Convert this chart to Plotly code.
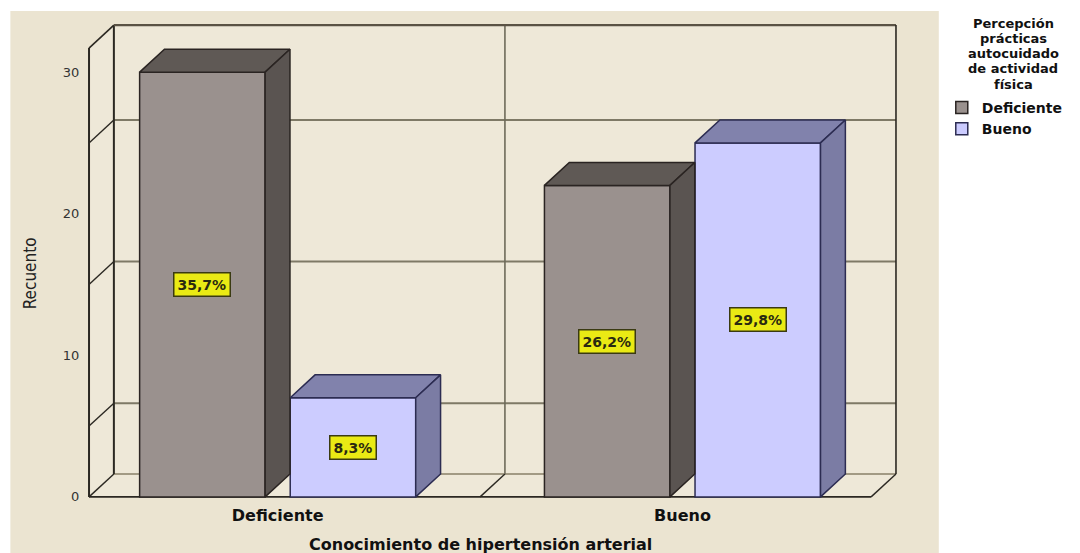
import plotly.graph_objects as go

# ---------------- data ----------------
CATEGORIES = ["Deficiente", "Bueno"]            # Conocimiento de hipertensión arterial
SERIES_NAMES = ["Deficiente", "Bueno"]          # Percepción prácticas autocuidado de actividad física
DEFICIENTE_COUNTS = [30, 22]
BUENO_COUNTS = [7, 25]
Y_TICKS = [0, 10, 20, 30]
GRID_LEVELS = [5, 15, 25]
LEGEND_TITLE_LINES = ["Percepción", "prácticas", "autocuidado", "de actividad", "física"]
X_TITLE = "Conocimiento de hipertensión arterial"
Y_TITLE = "Recuento"

SERIES_VALUES = [DEFICIENTE_COUNTS, BUENO_COUNTS]
TOTAL = sum(DEFICIENTE_COUNTS) + sum(BUENO_COUNTS)

# ---------------- style / geometry ----------------
PAGE_OFF = 8                      # browser body margin
W, H = 1080 - PAGE_OFF, 553 - PAGE_OFF
ML, MR, MT, MB = 87 - PAGE_OFF, 178, 23 - PAGE_OFF, 54
PLOT_W = W - ML - MR
PLOT_H = H - MT - MB

BAR_W = 0.31
BAR_OFF = 0.186
DX = 0.0614          # depth offset in x units
DY = 1.62            # depth offset in y units
WALL_TOP = 31.7
X_LEFT, X_RIGHT = -0.466, 1.466
PADX, PADY = 0.005, 0.15

FRONT = ["#9A918E", "#CCCCFF"]
TOP = ["#5F5955", "#8182AC"]
SIDE = ["#5A5451", "#7B7CA4"]
EDGE = ["#2A2422", "#2C2C52"]
OUTER_BG = "#EBE4D1"
WALL_BG = "#EEE8D8"
FRAME = "#2B2822"
GRID = "#7E7966"
FONT = "DejaVu Sans"


def px_x(px):
    """window pixel x -> paper coordinate"""
    return (px - PAGE_OFF - ML) / PLOT_W


def px_y(py):
    """window pixel y -> paper coordinate"""
    return (H - MB - (py - PAGE_OFF)) / PLOT_H


fig = go.Figure()

# front faces as bars
for s, (name, vals) in enumerate(zip(SERIES_NAMES, SERIES_VALUES)):
    off = -BAR_OFF if s == 0 else BAR_OFF
    fig.add_trace(go.Bar(
        x=[i + off for i in range(len(CATEGORIES))], y=vals, width=BAR_W, name=name,
        marker=dict(color=FRONT[s], line=dict(color=EDGE[s], width=1.5)),
        hoverinfo="skip",
    ))

# top and side faces + value labels
annotations = []
for s, vals in enumerate(SERIES_VALUES):
    off = -BAR_OFF if s == 0 else BAR_OFF
    for i, v in enumerate(vals):
        xl = i + off - BAR_W / 2
        xr = i + off + BAR_W / 2
        fig.add_trace(go.Scatter(
            x=[xl, xl + DX, xr + DX, xr, xl], y=[v, v + DY, v + DY, v, v],
            mode="lines", fill="toself", fillcolor=TOP[s],
            line=dict(color=EDGE[s], width=1.5), showlegend=False, hoverinfo="skip"))
        fig.add_trace(go.Scatter(
            x=[xr, xr, xr + DX, xr + DX, xr], y=[0, v, v + DY, DY, 0],
            mode="lines", fill="toself", fillcolor=SIDE[s],
            line=dict(color=EDGE[s], width=1.5), showlegend=False, hoverinfo="skip"))
        pct = f"{100 * v / TOTAL:.1f}".replace(".", ",") + "%"
        annotations.append(dict(
            x=i + off, y=v / 2, xref="x", yref="y", text=pct, showarrow=False,
            font=dict(family=FONT, size=14, color="#2A2A10", weight="bold"),
            bgcolor="#EAEA14", bordercolor="#3A3A12", borderwidth=1.5, borderpad=3,
        ))

# walls / floor
shapes = [
    dict(type="rect", xref="paper", yref="paper", x0=px_x(10), x1=px_x(943),
         y0=px_y(560), y1=px_y(11), fillcolor=OUTER_BG, line=dict(width=0), layer="below"),
    dict(type="rect", xref="x", yref="y", x0=X_LEFT + DX, x1=X_RIGHT + DX, y0=DY, y1=WALL_TOP + DY,
         fillcolor=WALL_BG, line=dict(width=0), layer="below"),
    dict(type="path", xref="x", yref="y",
         path=f"M{X_LEFT},0 L{X_LEFT + DX},{DY} L{X_LEFT + DX},{WALL_TOP + DY} L{X_LEFT},{WALL_TOP} Z",
         fillcolor=WALL_BG, line=dict(width=0), layer="below"),
    dict(type="path", xref="x", yref="y",
         path=f"M{X_LEFT},0 L{X_RIGHT},0 L{X_RIGHT + DX},{DY} L{X_LEFT + DX},{DY} Z",
         fillcolor=WALL_BG, line=dict(width=0), layer="below"),
]


def seg(x0, y0, x1, y1, color=FRAME, width=1.6):
    shapes.append(dict(type="line", xref="x", yref="y", x0=x0, y0=y0, x1=x1, y1=y1,
                       line=dict(color=color, width=width), layer="below"))


for g in GRID_LEVELS:
    seg(X_LEFT, g, X_LEFT + DX, g + DY, FRAME, 1.4)
    seg(X_LEFT + DX, g + DY, X_RIGHT + DX, g + DY, GRID, 2)
seg(X_LEFT + DX, DY, X_RIGHT + DX, DY, "#A29A84", 2)              # back floor
seg(X_LEFT, 0, X_RIGHT, 0, FRAME, 1.6)                              # front floor
for xb in [X_LEFT, 0.5, X_RIGHT]:
    seg(xb, 0, xb + DX, DY, FRAME, 1.4)
seg(0.5 + DX, DY, 0.5 + DX, WALL_TOP + DY, "#6E6A5A", 1.6)          # category divider
seg(X_LEFT, 0, X_LEFT, WALL_TOP, FRAME, 2)
seg(X_LEFT + DX, DY, X_LEFT + DX, WALL_TOP + DY, FRAME, 2)
seg(X_LEFT, WALL_TOP, X_LEFT + DX, WALL_TOP + DY, FRAME, 1.6)
seg(X_LEFT + DX, WALL_TOP + DY, X_RIGHT + DX, WALL_TOP + DY, "#5A5244", 2.2)
seg(X_RIGHT + DX, DY, X_RIGHT + DX, WALL_TOP + DY, FRAME, 1.6)

# titles
annotations.append(dict(x=px_x(482), y=px_y(544), xref="paper", yref="paper", text=X_TITLE,
                        showarrow=False, xanchor="center", yanchor="middle",
                        font=dict(family=FONT, size=16, color="#111111", weight="bold")))
annotations.append(dict(x=px_x(30), y=px_y(273), xref="paper", yref="paper", text=Y_TITLE,
                        showarrow=False, textangle=-90, xanchor="center", yanchor="middle",
                        font=dict(family="Liberation Sans Narrow, DejaVu Sans Condensed, Liberation Sans, sans-serif",
                                  size=17, color="#222222")))
for k, line in enumerate(LEGEND_TITLE_LINES):
    annotations.append(dict(x=px_x(1018), y=px_y(23 + 15.3 * k), xref="paper", yref="paper", text=line,
                            showarrow=False, xanchor="center", yanchor="middle",
                            font=dict(family=FONT, size=13, color="#111111", weight="bold")))

fig.update_layout(
    width=W, height=H, autosize=False,
    margin=dict(l=ML, r=MR, t=MT, b=MB),
    paper_bgcolor="white", plot_bgcolor="rgba(0,0,0,0)",
    barmode="overlay",
    shapes=shapes, annotations=annotations,
    showlegend=True,
    legend=dict(x=px_x(946), y=px_y(92), xanchor="left", yanchor="top",
                bgcolor="rgba(0,0,0,0)", font=dict(family=FONT, size=14, color="#111111", weight="bold"),
                itemwidth=30, tracegroupgap=0),
    xaxis=dict(range=[X_LEFT - PADX, X_RIGHT + DX + PADX], showgrid=False, zeroline=False,
               showline=False, tickvals=list(range(len(CATEGORIES))), ticktext=CATEGORIES,
               ticks="outside", ticklen=2, tickcolor="rgba(0,0,0,0)",
               tickfont=dict(family=FONT, size=16, color="#111111", weight="bold")),
    yaxis=dict(range=[-PADY, WALL_TOP + DY + PADY], showgrid=False, zeroline=False,
               showline=False, tickvals=Y_TICKS, ticks="outside", ticklen=4,
               tickcolor="rgba(0,0,0,0)",
               tickfont=dict(family=FONT, size=13, color="#333333")),
)

fig.write_html("out.html")
